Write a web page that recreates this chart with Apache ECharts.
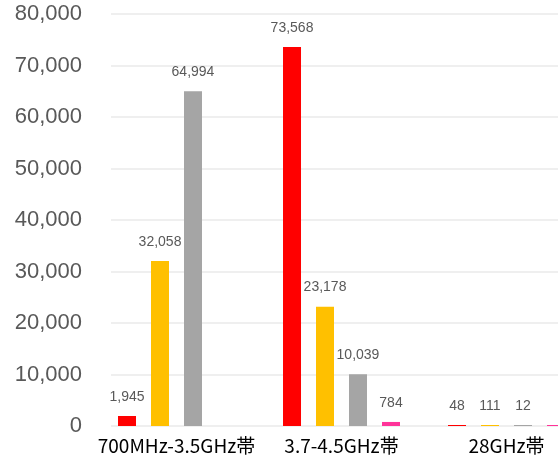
<!DOCTYPE html>
<html><head><meta charset="utf-8">
<script src="https://cdn.jsdelivr.net/npm/echarts@6/dist/echarts.min.js"></script>
<style>html,body{margin:0;padding:0;background:#fff}#c{width:558px;height:462px}</style>
</head><body><div id="c"></div>
<script>
const categories = ["700MHz-3.5GHz帯", "3.7-4.5GHz帯", "28GHz帯"];
const seriesRed = [1945, 73568, 48];
const seriesGold = [32058, 23178, 111];
const seriesGray = [64994, 10039, 12];
const seriesPink = [null, 784, 5];
const yTicks = [0, 10000, 20000, 30000, 40000, 50000, 60000, 70000, 80000];
const colors = ['#FF0000', '#FFC000', '#A5A5A5', '#FF3399'];

const fmt = v => Number(v).toLocaleString('en-US');
const chart = echarts.init(document.getElementById('c'));
const mk = (data, i, hideLast) => ({
  type: 'bar', xAxisIndex: 0, yAxisIndex: 0,
  data: data.map((v, k) => (hideLast && k === data.length - 1) ? {value: v, label: {show: false}} : v),
  barWidth: 18, barGap: '83.3%', barMinHeight: 1,
  itemStyle: {color: colors[i]},
  label: {show: true, position: 'top', distance: 12, color: '#595959', fontSize: 14,
    fontFamily: 'Liberation Sans', formatter: p => p.value == null ? '' : fmt(p.value)},
  animation: false
});
chart.setOption({
  animation: false,
  grid: [
    {left: 94, width: 495, top: 14, height: 412, outerBoundsMode: 'none', containLabel: false},
    {left: 111, right: 0, top: 14, height: 412, outerBoundsMode: 'none', containLabel: false}
  ],
  xAxis: [
    {type: 'category', gridIndex: 0, data: categories,
      axisLine: {show: false}, axisTick: {show: false},
      axisLabel: {interval: 0, color: '#000', fontSize: 19, fontFamily: 'Noto Sans CJK JP', margin: 10}},
    {type: 'value', gridIndex: 1, show: false}
  ],
  yAxis: [
    {type: 'value', gridIndex: 0, min: yTicks[0], max: yTicks[yTicks.length - 1], interval: 10000, show: false},
    {type: 'value', gridIndex: 1, min: yTicks[0], max: yTicks[yTicks.length - 1], interval: 10000,
      axisLine: {show: false}, axisTick: {show: false},
      splitLine: {show: true, lineStyle: {color: '#efefef', width: 2}},
      axisLabel: {color: '#595959', fontSize: 22, fontFamily: 'Liberation Sans', margin: 29,
        formatter: v => fmt(v)}}
  ],
  series: [
    mk(seriesRed, 0), mk(seriesGold, 1), mk(seriesGray, 2), mk(seriesPink, 3, true)
  ]
});
</script></body></html>
